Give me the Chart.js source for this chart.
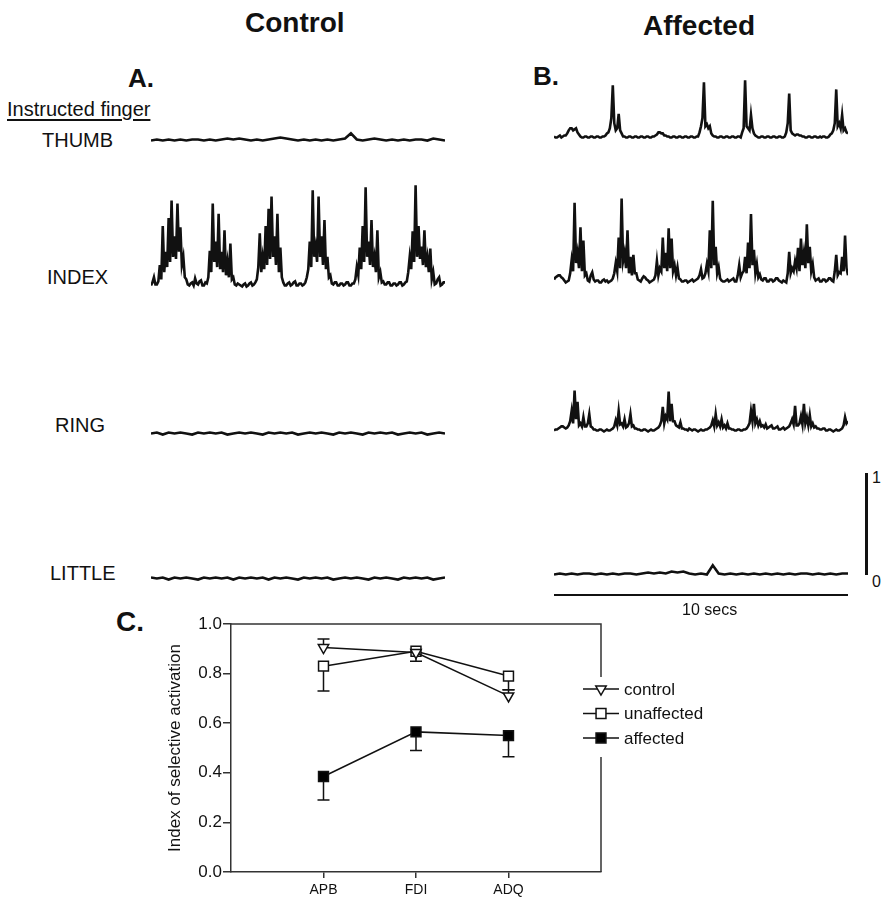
<!DOCTYPE html>
<html>
<head>
<meta charset="utf-8">
<title>Selective finger activation</title>
<script src="https://cdn.jsdelivr.net/npm/chart.js@4.4.1/dist/chart.umd.min.js"></script>
<style>
  html, body { margin: 0; padding: 0; background: #fff; }
  body { width: 891px; height: 908px; position: relative; overflow: hidden;
         font-family: 'Liberation Sans', Arial, sans-serif; color: #111; }
  .txt { position: absolute; line-height: 1; white-space: nowrap; }
  .big { font-size: 28px; font-weight: bold; }
  .lab { font-size: 20px; }
  .small { font-size: 16px; }
  canvas { position: absolute; }
  .bar { position: absolute; background: #111; }
</style>
</head>
<body>
<div class="txt big" style="left:245px;top:9px">Control</div>
<div class="txt big" style="left:643px;top:12px">Affected</div>
<div class="txt big" style="left:128px;top:65px;font-size:26px">A.</div>
<div class="txt big" style="left:533px;top:63px;font-size:26px">B.</div>
<div class="txt big" style="left:116px;top:608px">C.</div>
<div class="txt lab" style="left:7px;top:99px;text-decoration:underline;text-underline-offset:3px;text-decoration-thickness:1.5px">Instructed finger</div>
<div class="txt lab" style="left:42px;top:130px">THUMB</div>
<div class="txt lab" style="left:47px;top:267px">INDEX</div>
<div class="txt lab" style="left:55px;top:415px">RING</div>
<div class="txt lab" style="left:50px;top:563px">LITTLE</div>

<canvas id="thumbA" width="294" height="133" style="left:151px;top:28px"></canvas>
<canvas id="indexA" width="294" height="133" style="left:151px;top:174.5px"></canvas>
<canvas id="ringA" width="294" height="133" style="left:151px;top:320.5px"></canvas>
<canvas id="littleA" width="294" height="133" style="left:151px;top:465.5px"></canvas>
<canvas id="thumbB" width="294" height="133" style="left:554px;top:25.5px"></canvas>
<canvas id="indexB" width="294" height="133" style="left:554px;top:170.5px"></canvas>
<canvas id="ringB" width="294" height="133" style="left:554px;top:318.5px"></canvas>
<canvas id="littleB" width="294" height="133" style="left:554px;top:461.5px"></canvas>

<!-- calibration bars: 1 unit vertical, 10 s horizontal -->
<div class="bar" style="left:865px;top:473px;width:3px;height:102px"></div>
<div class="txt small" style="left:872px;top:470px">1</div>
<div class="txt small" style="left:872px;top:574px">0</div>
<div class="bar" style="left:554px;top:594px;width:294px;height:2px"></div>
<div class="txt small" style="left:682px;top:602px">10 secs</div>

<canvas id="panelC" width="751" height="308" style="left:140px;top:600px"></canvas>

<script>
// ---- EMG traces (rectified, normalised amplitude), one row per second, 0.05 s samples ----
var indexA = [
  0.02,0.05,0.10,0.03,0.03,0.06,0.22,0.08,0.60,0.15,0.35,0.20,0.68,0.25,0.85,0.30,0.50,0.28,0.82,0.35,
  0.59,0.22,0.30,0.10,0.08,0.03,0.02,0.04,0.05,0.02,0.09,0.04,0.03,0.06,0.07,0.02,0.02,0.05,0.04,0.10,
  0.36,0.15,0.82,0.25,0.45,0.20,0.72,0.18,0.35,0.15,0.56,0.12,0.25,0.10,0.43,0.08,0.10,0.03,0.02,0.04,
  0.03,0.02,0.01,0.03,0.04,0.01,0.02,0.04,0.05,0.02,0.03,0.05,0.08,0.20,0.53,0.15,0.30,0.18,0.60,0.22,
  0.77,0.28,0.89,0.30,0.50,0.22,0.72,0.15,0.39,0.10,0.05,0.02,0.02,0.04,0.05,0.02,0.03,0.05,0.06,0.02,
  0.02,0.04,0.04,0.02,0.03,0.05,0.10,0.18,0.45,0.20,0.95,0.30,0.40,0.25,0.89,0.30,0.50,0.22,0.66,0.18,
  0.30,0.10,0.12,0.04,0.03,0.05,0.05,0.02,0.02,0.04,0.04,0.02,0.03,0.05,0.05,0.02,0.02,0.04,0.04,0.08,
  0.20,0.12,0.39,0.18,0.60,0.25,0.98,0.30,0.45,0.22,0.66,0.20,0.30,0.15,0.56,0.10,0.15,0.05,0.06,0.03,
  0.03,0.05,0.05,0.02,0.02,0.04,0.04,0.02,0.03,0.05,0.05,0.02,0.03,0.05,0.06,0.15,0.30,0.18,0.55,0.25,
  1.00,0.30,0.60,0.28,0.40,0.22,0.56,0.20,0.30,0.15,0.38,0.08,0.15,0.03,0.04,0.08,0.10,0.02,0.03,0.05,
  0.05
];
var indexB = [
  0.04,0.06,0.07,0.08,0.08,0.06,0.05,0.03,0.01,0.02,0.03,0.10,0.23,0.12,0.79,0.20,0.30,0.15,0.55,0.12,
  0.42,0.08,0.10,0.03,0.02,0.08,0.11,0.04,0.02,0.03,0.03,0.01,0.01,0.03,0.04,0.02,0.03,0.01,0.02,0.03,
  0.05,0.10,0.20,0.12,0.45,0.15,0.83,0.22,0.30,0.15,0.52,0.10,0.26,0.08,0.28,0.10,0.10,0.04,0.03,0.02,
  0.05,0.07,0.06,0.04,0.03,0.01,0.02,0.03,0.04,0.08,0.22,0.08,0.15,0.12,0.45,0.15,0.30,0.12,0.54,0.15,
  0.44,0.12,0.18,0.08,0.16,0.05,0.04,0.02,0.02,0.03,0.03,0.01,0.02,0.03,0.04,0.02,0.03,0.04,0.05,0.08,
  0.14,0.05,0.06,0.10,0.19,0.12,0.52,0.15,0.81,0.18,0.36,0.10,0.16,0.05,0.03,0.02,0.02,0.03,0.04,0.02,
  0.03,0.04,0.05,0.02,0.02,0.08,0.18,0.06,0.10,0.12,0.26,0.10,0.40,0.15,0.68,0.18,0.33,0.10,0.19,0.06,
  0.09,0.04,0.03,0.05,0.05,0.02,0.02,0.04,0.04,0.02,0.03,0.05,0.05,0.03,0.02,0.01,0.03,0.02,0.01,0.10,
  0.31,0.10,0.15,0.12,0.22,0.15,0.35,0.12,0.44,0.18,0.30,0.15,0.58,0.20,0.36,0.12,0.19,0.06,0.03,0.04,
  0.05,0.02,0.02,0.04,0.04,0.02,0.03,0.05,0.05,0.03,0.02,0.12,0.28,0.08,0.11,0.10,0.26,0.12,0.47,0.15,
  0.08
];
var thumbB = [
  0.02,0.01,0.01,0.02,0.03,0.01,0.02,0.03,0.03,0.05,0.08,0.10,0.10,0.08,0.09,0.10,0.06,0.04,0.02,0.01,
  0.01,0.02,0.02,0.01,0.01,0.02,0.02,0.01,0.01,0.02,0.02,0.01,0.01,0.02,0.02,0.03,0.05,0.06,0.10,0.20,
  0.52,0.15,0.08,0.10,0.24,0.08,0.05,0.02,0.02,0.01,0.01,0.02,0.02,0.01,0.01,0.02,0.02,0.01,0.01,0.02,
  0.02,0.01,0.01,0.02,0.02,0.01,0.01,0.02,0.02,0.03,0.04,0.06,0.06,0.05,0.05,0.03,0.03,0.02,0.02,0.01,
  0.01,0.02,0.02,0.01,0.01,0.02,0.02,0.01,0.01,0.02,0.02,0.01,0.01,0.02,0.02,0.01,0.01,0.02,0.02,0.06,
  0.12,0.20,0.55,0.12,0.14,0.10,0.12,0.05,0.03,0.02,0.02,0.01,0.01,0.02,0.02,0.01,0.01,0.02,0.02,0.01,
  0.01,0.02,0.02,0.01,0.01,0.02,0.02,0.01,0.06,0.10,0.57,0.12,0.10,0.08,0.23,0.10,0.05,0.03,0.02,0.01,
  0.01,0.02,0.02,0.01,0.01,0.02,0.02,0.01,0.01,0.02,0.02,0.01,0.01,0.02,0.02,0.01,0.01,0.02,0.06,0.15,
  0.44,0.08,0.05,0.04,0.03,0.04,0.04,0.03,0.03,0.02,0.02,0.01,0.01,0.02,0.02,0.01,0.01,0.02,0.02,0.01,
  0.01,0.02,0.01,0.02,0.02,0.01,0.01,0.02,0.04,0.05,0.08,0.15,0.48,0.12,0.15,0.10,0.23,0.08,0.10,0.06,
  0.05
];
var ringB = [
  0.01,0.02,0.02,0.03,0.04,0.05,0.05,0.04,0.03,0.04,0.06,0.10,0.20,0.08,0.40,0.12,0.29,0.06,0.08,0.05,
  0.14,0.05,0.05,0.08,0.17,0.05,0.04,0.02,0.02,0.01,0.01,0.02,0.02,0.01,0.00,0.01,0.02,0.01,0.01,0.02,
  0.03,0.05,0.11,0.06,0.20,0.07,0.08,0.05,0.12,0.04,0.05,0.08,0.17,0.05,0.06,0.03,0.03,0.02,0.02,0.01,
  0.01,0.02,0.02,0.01,0.00,0.01,0.02,0.01,0.01,0.02,0.03,0.04,0.06,0.10,0.24,0.08,0.15,0.12,0.39,0.10,
  0.27,0.10,0.10,0.06,0.05,0.04,0.09,0.03,0.03,0.02,0.02,0.01,0.03,0.02,0.01,0.02,0.02,0.01,0.00,0.01,
  0.02,0.01,0.01,0.02,0.02,0.03,0.04,0.06,0.11,0.05,0.17,0.06,0.09,0.05,0.12,0.04,0.06,0.03,0.08,0.03,
  0.03,0.02,0.02,0.01,0.01,0.02,0.02,0.01,0.01,0.02,0.02,0.03,0.05,0.08,0.20,0.10,0.27,0.08,0.12,0.06,
  0.10,0.05,0.06,0.04,0.07,0.03,0.04,0.05,0.06,0.03,0.03,0.04,0.05,0.02,0.02,0.03,0.04,0.02,0.03,0.04,
  0.05,0.08,0.12,0.07,0.25,0.06,0.06,0.08,0.15,0.07,0.27,0.08,0.14,0.06,0.16,0.05,0.08,0.04,0.05,0.03,
  0.03,0.02,0.02,0.03,0.03,0.01,0.01,0.02,0.02,0.01,0.00,0.01,0.02,0.01,0.01,0.02,0.03,0.06,0.14,0.08,
  0.10
];
// quiet traces, 0.2 s samples
var thumbA = [
  0.00,0.01,0.00,0.01,0.00,0.01,0.00,0.01,0.01,0.00,
  0.01,0.00,0.01,0.02,0.01,0.02,0.01,0.00,0.01,0.00,
  0.01,0.02,0.03,0.02,0.01,0.00,0.01,0.00,0.01,0.00,
  0.01,0.00,0.01,0.02,0.07,0.01,0.00,0.01,0.02,0.01,
  0.00,0.01,0.00,0.01,0.00,0.01,0.01,0.00,0.02,0.01,
  0.00
];
var ringA = [
  0.00,0.01,-0.01,0.01,0.00,0.01,0.00,-0.01,0.01,0.00,
  0.01,0.00,0.01,-0.01,0.00,0.01,0.00,0.01,0.00,-0.01,
  0.01,0.00,0.01,0.00,0.01,-0.01,0.00,0.01,0.00,0.01,
  0.00,-0.01,0.01,0.00,0.01,0.00,-0.01,0.01,0.00,0.01,
  0.00,0.01,-0.01,0.00,0.01,0.00,0.01,-0.01,0.00,0.01,
  0.00
];
var littleA = [
  0.01,0.00,0.01,-0.01,0.01,0.00,0.01,0.00,-0.01,0.01,
  0.00,0.01,0.00,0.01,-0.01,0.01,0.00,0.01,0.00,0.01,
  -0.01,0.01,0.00,0.01,0.00,-0.01,0.01,0.00,0.01,0.00,
  0.01,-0.01,0.00,0.01,0.00,0.01,0.00,-0.01,0.01,0.00,
  0.01,0.00,-0.01,0.01,0.00,0.01,0.00,0.01,-0.01,0.00,
  0.01
];
var littleB = [
  0.00,0.01,0.00,0.01,0.00,0.01,0.01,0.00,0.01,0.00,
  0.01,0.00,0.01,0.01,0.00,0.01,0.02,0.01,0.02,0.01,
  0.03,0.02,0.03,0.01,0.00,0.01,0.00,0.09,0.01,0.00,
  0.01,0.00,0.01,0.00,0.01,0.00,0.01,0.00,0.01,0.00,
  0.01,0.00,0.01,0.01,0.00,0.01,0.00,0.01,0.00,0.01,
  0.01
];

// ---- panel C: index of selective activation ----
var muscles = ['APB', 'FDI', 'ADQ'];
var controlMean = [0.905, 0.885, 0.71];
var controlBar = [0.94, 0.85, 0.735];      // end of one-sided SE bar
var unaffectedMean = [0.83, 0.89, 0.79];
var unaffectedBar = [0.73, null, 0.735];
var affectedMean = [0.385, 0.565, 0.55];
var affectedBar = [0.29, 0.49, 0.465];
var yTicks = [0, 0.2, 0.4, 0.6, 0.8, 1.0];

Chart.defaults.font.family = "'Liberation Sans', Arial, sans-serif";
Chart.defaults.color = '#111';

function drawTrace(id, vals, step) {
    var pts = vals.map(function (v, i) { return {x: i * step, y: v}; });
    new Chart(document.getElementById(id), {
        type: 'line',
        data: {datasets: [{data: pts, borderColor: '#111', borderWidth: 2.6,
                           pointRadius: 0, tension: 0, clip: false}]},
        options: {
            animation: false, responsive: false, events: [],
            layout: {padding: 0},
            plugins: {legend: {display: false}, tooltip: {enabled: false}},
            scales: {
                x: {type: 'linear', min: 0, max: 10, display: false},
                y: {min: -0.2, max: 1.1, display: false}
            }
        }
    });
}

drawTrace('thumbA', thumbA, 0.2);
drawTrace('indexA', indexA, 0.05);
drawTrace('ringA', ringA, 0.2);
drawTrace('littleA', littleA, 0.2);
drawTrace('thumbB', thumbB, 0.05);
drawTrace('indexB', indexB, 0.05);
drawTrace('ringB', ringB, 0.05);
drawTrace('littleB', littleB, 0.2);

var series = [
    {label: 'control', mean: controlMean, bar: controlBar, style: 'triangle', rot: 180, r: 6, fill: '#fff'},
    {label: 'unaffected', mean: unaffectedMean, bar: unaffectedBar, style: 'rect', rot: 0, r: 7, fill: '#fff'},
    {label: 'affected', mean: affectedMean, bar: affectedBar, style: 'rect', rot: 0, r: 7, fill: '#000'}
];

function marker(ctx, s, x, y) {
    ctx.fillStyle = s.fill;
    ctx.strokeStyle = '#111';
    ctx.lineWidth = 1.5;
    Chart.helpers.drawPoint(ctx, {pointStyle: s.style, rotation: s.rot, radius: s.r, borderWidth: 1.5}, x, y);
}

var panelExtras = {
    id: 'panelExtras',
    beforeDatasetsDraw: function (chart) {
        var ctx = chart.ctx, x = chart.scales.x, y = chart.scales.y;
        ctx.save();
        ctx.strokeStyle = '#111';
        ctx.lineWidth = 1.5;
        series.forEach(function (s) {
            s.bar.forEach(function (end, i) {
                if (end === null) return;
                var px = x.getPixelForValue(i + 1);
                var y0 = y.getPixelForValue(s.mean[i]);
                var y1 = y.getPixelForValue(end);
                ctx.beginPath();
                ctx.moveTo(px, y0); ctx.lineTo(px, y1);
                ctx.moveTo(px - 6, y1); ctx.lineTo(px + 6, y1);
                ctx.stroke();
            });
        });
        ctx.restore();
    },
    afterDraw: function (chart) {
        var ctx = chart.ctx, a = chart.chartArea;
        ctx.save();
        ctx.strokeStyle = '#333';
        ctx.lineWidth = 1.5;
        // top and right frame, right side broken for the legend
        ctx.beginPath();
        ctx.moveTo(a.left, a.top); ctx.lineTo(a.right, a.top);
        ctx.lineTo(a.right, a.top + 53);
        ctx.moveTo(a.right, a.top + 133); ctx.lineTo(a.right, a.bottom);
        ctx.stroke();
        // legend centred on the right frame line
        ctx.font = "17px 'Liberation Sans', Arial, sans-serif";
        ctx.textBaseline = 'middle';
        series.forEach(function (s, k) {
            var ly = a.top + 65 + k * 24.5;
            ctx.strokeStyle = '#111';
            ctx.lineWidth = 1.5;
            ctx.beginPath();
            ctx.moveTo(a.right - 18, ly); ctx.lineTo(a.right + 18, ly);
            ctx.stroke();
            marker(ctx, s, a.right, ly);
            ctx.fillStyle = '#111';
            ctx.fillText(s.label, a.right + 23, ly + 1);
        });
        ctx.restore();
    }
};

new Chart(document.getElementById('panelC'), {
    type: 'line',
    data: {
        datasets: series.map(function (s) {
            return {
                label: s.label,
                data: s.mean.map(function (v, i) { return {x: i + 1, y: v}; }),
                borderColor: '#111', borderWidth: 1.5, tension: 0,
                pointStyle: s.style, pointRotation: s.rot, pointRadius: s.r,
                pointBackgroundColor: s.fill, pointBorderColor: '#111', pointBorderWidth: 1.5
            };
        })
    },
    options: {
        animation: false, responsive: false, events: [],
        layout: {padding: {top: 24, right: 290, left: 0, bottom: 0}},
        plugins: {legend: {display: false}, tooltip: {enabled: false}},
        scales: {
            x: {
                type: 'linear', min: 0, max: 4,
                afterBuildTicks: function (s) { s.ticks = muscles.map(function (m, i) { return {value: i + 1}; }); },
                afterFit: function (s) { s.height = 36; },
                ticks: {callback: function (v) { return muscles[v - 1]; }, font: {size: 14}, color: '#111',
                        padding: 4, autoSkip: false, maxRotation: 0},
                grid: {drawOnChartArea: false, tickLength: 6, color: '#333', lineWidth: 1.5},
                border: {color: '#333', width: 1.5}
            },
            y: {
                min: 0, max: 1,
                afterBuildTicks: function (s) { s.ticks = yTicks.map(function (v) { return {value: v}; }); },
                afterFit: function (s) { s.width = 91; },
                ticks: {callback: function (v) { return v.toFixed(1); }, font: {size: 17}, color: '#111', padding: 1},
                grid: {drawOnChartArea: false, tickLength: 8, color: '#333', lineWidth: 1.5},
                border: {color: '#333', width: 1.5},
                title: {display: true, text: 'Index of selective activation', font: {size: 17},
                        color: '#111', padding: {top: 25}}
            }
        }
    },
    plugins: [panelExtras]
});
</script>
</body>
</html>
